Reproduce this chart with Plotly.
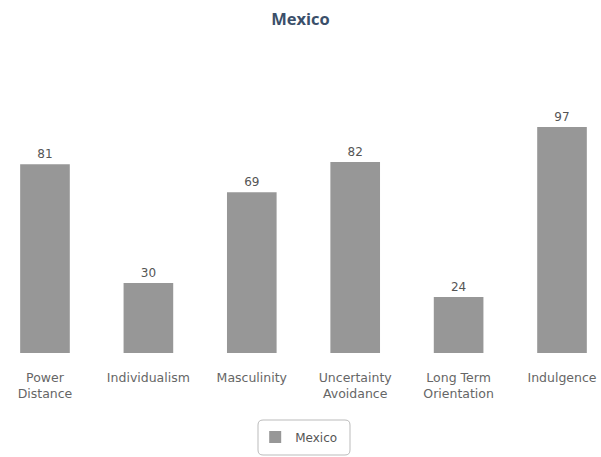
import plotly.graph_objects as go

# Hofstede cultural dimension scores for Mexico
dimensions = ["Power<br>Distance", "Individualism", "Masculinity",
              "Uncertainty<br>Avoidance", "Long Term<br>Orientation", "Indulgence"]
scores = [81, 30, 69, 82, 24, 97]
series_name = "Mexico"
chart_title = "Mexico"

W, H = 601, 457
M_TOP, M_BOT = 120, 104
FONT = "DejaVu Sans, Verdana, sans-serif"

fig = go.Figure()
fig.add_trace(go.Bar(
    x=list(range(len(dimensions))),
    y=scores,
    name=series_name,
    width=0.48,
    marker=dict(color="#979797", line=dict(width=0)),
    text=[str(v) for v in scores],
    textposition="outside",
    textfont=dict(family=FONT, size=12, color="#555555"),
    cliponaxis=False,
    showlegend=True,
))

fig.update_layout(
    width=W, height=H,
    margin=dict(l=0, r=0, t=M_TOP, b=M_BOT),
    paper_bgcolor="white",
    plot_bgcolor="white",
    title=dict(text="<b>" + chart_title + "</b>", x=0.5, xanchor="center",
               y=1 - 19 / H, yanchor="middle",
               font=dict(family="Open Sans, DejaVu Sans, sans-serif", size=16.5, color="#3a4f6a")),
    xaxis=dict(
        range=[-0.435, 5.377],
        tickmode="array",
        tickvals=list(range(len(dimensions))),
        ticktext=dimensions,
        showgrid=False, zeroline=False, showline=False, ticks="",
        ticklabelstandoff=15,
        tickfont=dict(family=FONT, size=12.5, color="#666666"),
        fixedrange=True,
    ),
    yaxis=dict(range=[0, 100], visible=False, fixedrange=True),
    bargap=0.5,
    showlegend=True,
    legend=dict(
        orientation="h",
        x=0.497, xanchor="center",
        y=(353 - 437) / (H - M_TOP - M_BOT), yanchor="middle",
        font=dict(family=FONT, size=12, color="#555555"),
        bgcolor="rgba(0,0,0,0)",
        borderwidth=0,
        itemwidth=30,
    ),
)

# rounded frame around the legend
plot_h = H - M_TOP - M_BOT
def py(pix):
    return (H - M_BOT - pix) / plot_h

x0, x1 = 258 / W, 350 / W
y0, y1 = py(455), py(420)
rx, ry = 5 / W, 5 / plot_h
path = (f"M {x0+rx},{y1} L {x1-rx},{y1} Q {x1},{y1} {x1},{y1-ry} "
        f"L {x1},{y0+ry} Q {x1},{y0} {x1-rx},{y0} L {x0+rx},{y0} "
        f"Q {x0},{y0} {x0},{y0+ry} L {x0},{y1-ry} Q {x0},{y1} {x0+rx},{y1} Z")
fig.add_shape(type="path", path=path, xref="paper", yref="paper",
              line=dict(color="#bbbbbb", width=1), fillcolor="rgba(0,0,0,0)")

fig.write_html("out.html")
